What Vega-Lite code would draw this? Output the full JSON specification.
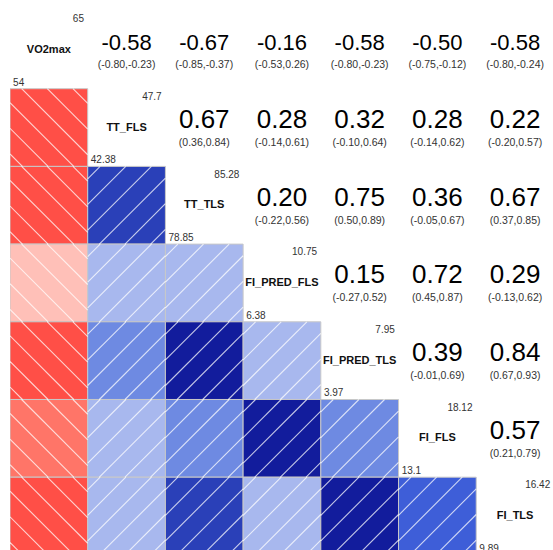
{
  "$schema": "https://vega.github.io/schema/vega-lite/v6.json",
  "width": 543,
  "height": 539,
  "autosize": {"type": "none"},
  "padding": {"left": 10, "top": 11, "right": 0, "bottom": 0},
  "background": "white",
  "config": {"view": {"stroke": null}, "font": "Liberation Sans"},
  "datasets": {
    "vars": [
      {"name": "VO2max", "idx": 0, "min": 54, "max": 65},
      {"name": "TT_FLS", "idx": 1, "min": 42.38, "max": 47.7},
      {"name": "TT_TLS", "idx": 2, "min": 78.85, "max": 85.28},
      {"name": "FI_PRED_FLS", "idx": 3, "min": 6.38, "max": 10.75},
      {"name": "FI_PRED_TLS", "idx": 4, "min": 3.97, "max": 7.95},
      {"name": "FI_FLS", "idx": 5, "min": 13.1, "max": 18.12},
      {"name": "FI_TLS", "idx": 6, "min": 9.89, "max": 16.42}
    ],
    "corr": [
      {"i": 0, "j": 1, "r": -0.58, "lo": -0.80, "hi": -0.23},
      {"i": 0, "j": 2, "r": -0.67, "lo": -0.85, "hi": -0.37},
      {"i": 0, "j": 3, "r": -0.16, "lo": -0.53, "hi": 0.26},
      {"i": 0, "j": 4, "r": -0.58, "lo": -0.80, "hi": -0.23},
      {"i": 0, "j": 5, "r": -0.50, "lo": -0.75, "hi": -0.12},
      {"i": 0, "j": 6, "r": -0.58, "lo": -0.80, "hi": -0.24},
      {"i": 1, "j": 2, "r": 0.67, "lo": 0.36, "hi": 0.84},
      {"i": 1, "j": 3, "r": 0.28, "lo": -0.14, "hi": 0.61},
      {"i": 1, "j": 4, "r": 0.32, "lo": -0.10, "hi": 0.64},
      {"i": 1, "j": 5, "r": 0.28, "lo": -0.14, "hi": 0.62},
      {"i": 1, "j": 6, "r": 0.22, "lo": -0.20, "hi": 0.57},
      {"i": 2, "j": 3, "r": 0.20, "lo": -0.22, "hi": 0.56},
      {"i": 2, "j": 4, "r": 0.75, "lo": 0.50, "hi": 0.89},
      {"i": 2, "j": 5, "r": 0.36, "lo": -0.05, "hi": 0.67},
      {"i": 2, "j": 6, "r": 0.67, "lo": 0.37, "hi": 0.85},
      {"i": 3, "j": 4, "r": 0.15, "lo": -0.27, "hi": 0.52},
      {"i": 3, "j": 5, "r": 0.72, "lo": 0.45, "hi": 0.87},
      {"i": 3, "j": 6, "r": 0.29, "lo": -0.13, "hi": 0.62},
      {"i": 4, "j": 5, "r": 0.39, "lo": -0.01, "hi": 0.69},
      {"i": 4, "j": 6, "r": 0.84, "lo": 0.67, "hi": 0.93},
      {"i": 5, "j": 6, "r": 0.57, "lo": 0.21, "hi": 0.79}
    ]
  },
  "layer": [
    {
      "data": {"name": "corr"},
      "transform": [
        {"calculate": "datum.i", "as": "col"},
        {"calculate": "datum.j", "as": "row"},
        {"calculate": "datum.i + 1", "as": "col2"},
        {"calculate": "datum.j + 1", "as": "row2"}
      ],
      "mark": {"type": "rect", "stroke": "#c8c8c8", "strokeWidth": 1, "clip": true},
      "encoding": {
        "x": {"field": "col", "type": "quantitative", "scale": {"domain": [0, 6.988], "nice": false, "zero": false}, "axis": null},
        "x2": {"field": "col2"},
        "y": {"field": "row", "type": "quantitative", "scale": {"domain": [0, 6.937], "nice": false, "zero": false, "reverse": true}, "axis": null},
        "y2": {"field": "row2"},
        "fill": {
          "field": "r",
          "type": "quantitative",
          "scale": {
            "type": "threshold",
            "domain": [-0.55, -0.2, 0, 0.3, 0.5, 0.6, 0.7],
            "range": ["#FF4F47", "#FF7568", "#FFC0B8", "#A8B8EE", "#6E8AE2", "#3E5ED8", "#2A40B8", "#121C9C"]
          },
          "legend": null
        }
      }
    },
    {
      "data": {"name": "corr"},
      "transform": [
        {"calculate": "[-0.84,-0.51,-0.18,0.15,0.48,0.81]", "as": "off"},
        {"flatten": ["off"]},
        {"calculate": "datum.i + max(datum.off, 0)", "as": "hx1"},
        {"calculate": "datum.i + min(1 + datum.off, 1)", "as": "hx2"},
        {"calculate": "datum.r < 0 ? datum.j + max(-datum.off, 0) : datum.j + min(1 + datum.off, 1)", "as": "hy1"},
        {"calculate": "datum.r < 0 ? datum.j + min(1 - datum.off, 1) : datum.j + max(datum.off, 0)", "as": "hy2"}
      ],
      "mark": {"type": "rule", "stroke": "#ffffff", "strokeOpacity": 0.75, "strokeWidth": 1.1, "clip": true},
      "encoding": {
        "x": {"field": "hx1", "type": "quantitative", "scale": {"domain": [0, 6.988], "nice": false, "zero": false}, "axis": null},
        "x2": {"field": "hx2"},
        "y": {"field": "hy1", "type": "quantitative", "scale": {"domain": [0, 6.937], "nice": false, "zero": false, "reverse": true}, "axis": null},
        "y2": {"field": "hy2"}
      }
    },
    {
      "data": {"name": "corr"},
      "transform": [
        {"calculate": "datum.j + 0.5", "as": "tx"},
        {"calculate": "datum.i + 0.505", "as": "ty"},
        {"calculate": "replace(format(datum.r, '.2f'), '\u2212', '-')", "as": "rlab"}
      ],
      "mark": {"type": "text", "baseline": "alphabetic", "align": "center", "color": "#000000", "font": "Liberation Sans"},
      "encoding": {
        "x": {"field": "tx", "type": "quantitative", "scale": {"domain": [0, 6.988], "nice": false, "zero": false}, "axis": null},
        "y": {"field": "ty", "type": "quantitative", "scale": {"domain": [0, 6.937], "nice": false, "zero": false, "reverse": true}, "axis": null},
        "text": {"field": "rlab"},
        "size": {"condition": {"test": "datum.r < 0", "value": 22}, "value": 26}
      }
    },
    {
      "data": {"name": "corr"},
      "transform": [
        {"calculate": "datum.j + 0.5", "as": "tx"},
        {"calculate": "datum.i + 0.735", "as": "ty"},
        {"calculate": "'(' + replace(format(datum.lo, '.2f'), '\u2212', '-') + ',' + replace(format(datum.hi, '.2f'), '\u2212', '-') + ')'", "as": "ci"}
      ],
      "mark": {"type": "text", "baseline": "alphabetic", "align": "center", "color": "#333333", "fontSize": 10.5, "font": "Liberation Sans"},
      "encoding": {
        "x": {"field": "tx", "type": "quantitative", "scale": {"domain": [0, 6.988], "nice": false, "zero": false}, "axis": null},
        "y": {"field": "ty", "type": "quantitative", "scale": {"domain": [0, 6.937], "nice": false, "zero": false, "reverse": true}, "axis": null},
        "text": {"field": "ci"}
      }
    },
    {
      "data": {"name": "vars"},
      "transform": [
        {"calculate": "datum.idx + 0.5", "as": "tx"},
        {"calculate": "datum.idx + 0.5", "as": "ty"}
      ],
      "mark": {"type": "text", "baseline": "middle", "align": "center", "color": "#111111", "fontSize": 11, "fontWeight": "bold", "font": "Liberation Sans"},
      "encoding": {
        "x": {"field": "tx", "type": "quantitative", "scale": {"domain": [0, 6.988], "nice": false, "zero": false}, "axis": null},
        "y": {"field": "ty", "type": "quantitative", "scale": {"domain": [0, 6.937], "nice": false, "zero": false, "reverse": true}, "axis": null},
        "text": {"field": "name"}
      }
    },
    {
      "data": {"name": "vars"},
      "transform": [
        {"calculate": "datum.idx + 0.952", "as": "tx"},
        {"calculate": "datum.idx + 0.04", "as": "ty"},
        {"calculate": "'' + datum.max", "as": "lab"}
      ],
      "mark": {"type": "text", "baseline": "top", "align": "right", "color": "#333333", "fontSize": 10, "font": "Liberation Sans"},
      "encoding": {
        "x": {"field": "tx", "type": "quantitative", "scale": {"domain": [0, 6.988], "nice": false, "zero": false}, "axis": null},
        "y": {"field": "ty", "type": "quantitative", "scale": {"domain": [0, 6.937], "nice": false, "zero": false, "reverse": true}, "axis": null},
        "text": {"field": "lab"}
      }
    },
    {
      "data": {"name": "vars"},
      "transform": [
        {"calculate": "datum.idx + 0.04", "as": "tx"},
        {"calculate": "datum.idx + 0.96", "as": "ty"},
        {"calculate": "'' + datum.min", "as": "lab"}
      ],
      "mark": {"type": "text", "baseline": "alphabetic", "align": "left", "color": "#333333", "fontSize": 10, "font": "Liberation Sans"},
      "encoding": {
        "x": {"field": "tx", "type": "quantitative", "scale": {"domain": [0, 6.988], "nice": false, "zero": false}, "axis": null},
        "y": {"field": "ty", "type": "quantitative", "scale": {"domain": [0, 6.937], "nice": false, "zero": false, "reverse": true}, "axis": null},
        "text": {"field": "lab"}
      }
    }
  ]
}
